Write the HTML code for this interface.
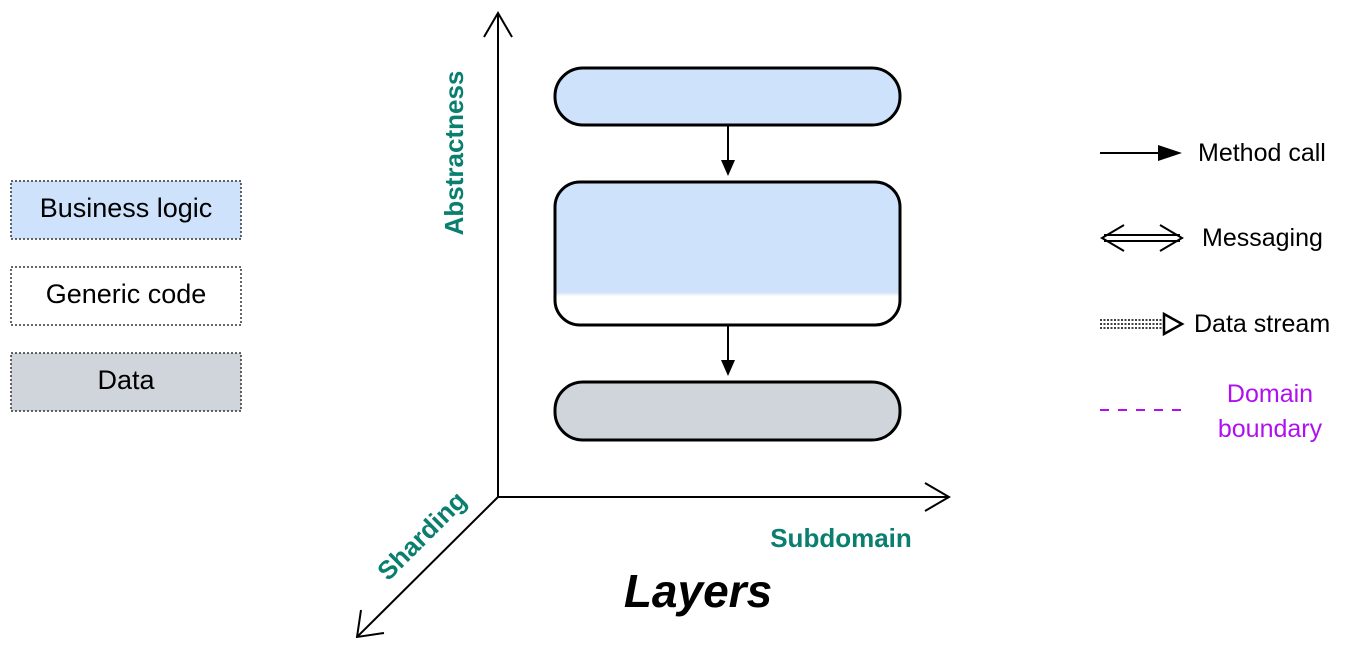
<!DOCTYPE html>
<html><head><meta charset="utf-8"><style>
html,body{margin:0;padding:0;background:#fff;}
svg{display:block;font-family:"Liberation Sans",sans-serif;}
</style></head><body>
<svg width="1358" height="648" viewBox="0 0 1358 648" xmlns="http://www.w3.org/2000/svg">
<defs>
<linearGradient id="g2" x1="0" y1="0" x2="0" y2="1">
<stop offset="0" stop-color="#cfe2fc"/><stop offset="0.77" stop-color="#cfe2fc"/><stop offset="0.8" stop-color="#fff"/><stop offset="1" stop-color="#fff"/>
</linearGradient>
</defs>
<!-- left legend -->
<rect x="11" y="181" width="230" height="58" fill="#cfe2fc" stroke="#333" stroke-width="1.5" stroke-dasharray="2,2"/>
<text x="126" y="217" font-size="27" text-anchor="middle">Business logic</text>
<rect x="11" y="267" width="230" height="58" fill="#fff" stroke="#333" stroke-width="1.5" stroke-dasharray="2,2"/>
<text x="126" y="303" font-size="27" text-anchor="middle">Generic code</text>
<rect x="11" y="353" width="230" height="58" fill="#d0d5dc" stroke="#333" stroke-width="1.5" stroke-dasharray="2,2"/>
<text x="126" y="389" font-size="27" text-anchor="middle">Data</text>
<!-- axes -->
<g stroke="#000" stroke-width="2" fill="none">
<line x1="498" y1="497" x2="498" y2="13"/>
<polyline points="484,37 498,13 512,37"/>
<line x1="498" y1="497" x2="949" y2="497"/>
<polyline points="925,483 949,497 925,511"/>
<line x1="498" y1="497" x2="357" y2="637"/>
<polyline points="361,610 357,637 384,633"/>
</g>
<text transform="translate(463,153) rotate(-90)" font-size="26" font-weight="bold" fill="#0a7f6f" text-anchor="middle">Abstractness</text>
<text x="841" y="547" font-size="26" font-weight="bold" fill="#0a7f6f" text-anchor="middle">Subdomain</text>
<text transform="translate(428,542) rotate(-45)" font-size="26" font-weight="bold" fill="#0a7f6f" text-anchor="middle">Sharding</text>
<text x="698" y="607" font-size="46" font-weight="bold" font-style="italic" text-anchor="middle">Layers</text>
<!-- boxes -->
<rect x="555" y="68" width="345" height="57" rx="28" fill="#cfe2fc" stroke="#000" stroke-width="3"/>
<rect x="555" y="182" width="345" height="143" rx="25" fill="url(#g2)" stroke="#000" stroke-width="3"/>
<rect x="555" y="382" width="345" height="58" rx="28" fill="#d0d5dc" stroke="#000" stroke-width="3"/>
<g stroke="#000" stroke-width="2">
<line x1="728" y1="125" x2="728" y2="162"/>
<line x1="728" y1="325" x2="728" y2="362"/>
</g>
<polygon points="721,160 735,160 728,176" fill="#000"/>
<polygon points="721,360 735,360 728,376" fill="#000"/>
<!-- right legend -->
<line x1="1100" y1="153" x2="1162" y2="153" stroke="#000" stroke-width="2"/>
<polygon points="1158,145 1182,153 1158,161" fill="#000"/>
<text x="1198" y="161" font-size="25">Method call</text>
<g stroke="#000" stroke-width="2" fill="none">
<line x1="1104" y1="235" x2="1180" y2="235"/>
<line x1="1104" y1="241" x2="1180" y2="241"/>
<polyline points="1124,225 1102,238 1124,251"/>
<polyline points="1160,225 1182,238 1160,251"/>
</g>
<text x="1202" y="246" font-size="25">Messaging</text>
<g stroke="#000" stroke-width="1.5" stroke-dasharray="2,1.5">
<line x1="1100" y1="320" x2="1162" y2="320"/>
<line x1="1100" y1="324" x2="1162" y2="324"/>
<line x1="1100" y1="328" x2="1162" y2="328"/>
</g>
<polygon points="1164,314 1182,324 1164,334" fill="#fff" stroke="#000" stroke-width="2.5"/>
<text x="1194" y="332" font-size="25">Data stream</text>
<line x1="1100" y1="410" x2="1186" y2="410" stroke="#b010f0" stroke-width="2" stroke-dasharray="9,9"/>
<text x="1270" y="402" font-size="25" fill="#b010f0" text-anchor="middle">Domain</text>
<text x="1270" y="437" font-size="25" fill="#b010f0" text-anchor="middle">boundary</text>
</svg>
</body></html>
